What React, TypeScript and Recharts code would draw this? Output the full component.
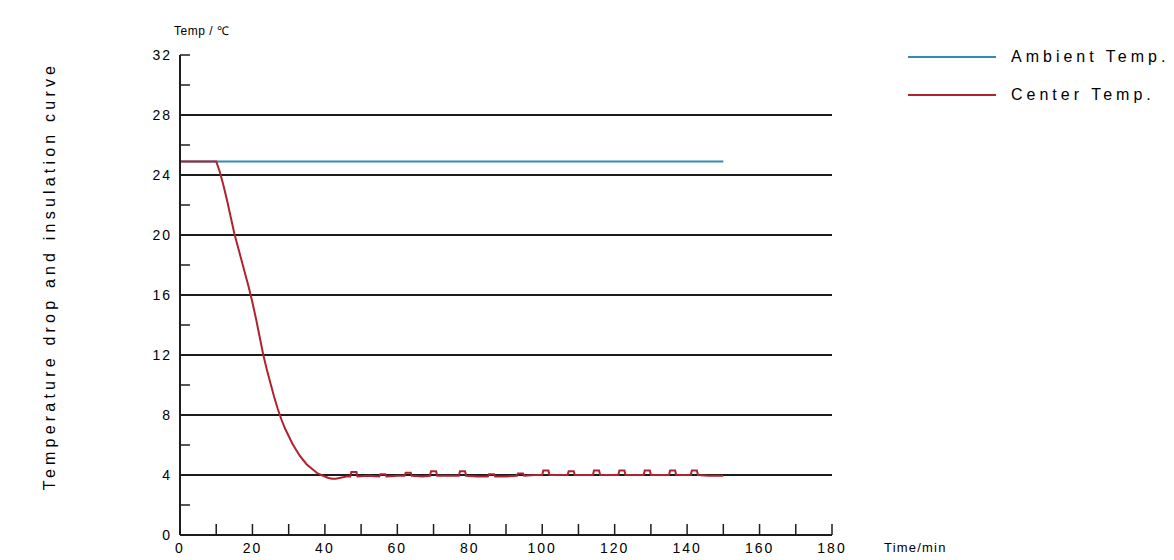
import { LineChart, Line, XAxis, YAxis, ReferenceLine } from 'recharts';

// time (min) / temperature (°C)
const AMBIENT_TIME = [0, 150];
const AMBIENT_TEMP = [24.9, 24.9];

const CENTER_TIME = [
  0, 10, 11, 12, 13, 14, 15, 16, 17, 18, 19, 20, 21, 22, 23, 24, 25, 26, 27, 28,
  29, 30, 31, 32, 33, 34, 35, 36, 37, 38, 39, 40, 41, 42, 43, 44, 45, 46,
  47, 47.3, 48.7, 49, 52, 55, 55.3, 56.7, 57, 60, 62, 62.3, 63.7, 64, 67,
  69, 69.3, 70.7, 71, 74, 77, 77.3, 78.7, 79, 82, 85, 85.3, 86.7, 87, 90,
  93, 93.3, 94.7, 95, 98, 100, 100.3, 101.7, 102, 105, 107, 107.3, 108.7, 109,
  112, 114, 114.3, 115.7, 116, 119, 121, 121.3, 122.7, 123, 126, 128, 128.3,
  129.7, 130, 133, 135, 135.3, 136.7, 137, 139.5, 141, 141.3, 142.7, 143, 146,
  150,
];
const CENTER_TEMP = [
  24.9, 24.9, 24.2, 23.3, 22.3, 21.2, 20.1, 19.2, 18.3, 17.4, 16.5, 15.5, 14.4,
  13.2, 12.0, 11.0, 10.1, 9.2, 8.4, 7.7, 7.1, 6.6, 6.1, 5.7, 5.3, 5.0, 4.7, 4.5,
  4.3, 4.1, 4.0, 3.9, 3.8, 3.75, 3.75, 3.8, 3.85, 3.9,
  3.9, 4.2, 4.2, 3.9, 3.95, 3.9, 4.05, 4.05, 3.9, 3.95, 3.95, 4.15, 4.15, 3.95,
  3.9, 3.95, 4.25, 4.25, 3.95, 3.95, 3.95, 4.25, 4.25, 3.95, 3.9, 3.9, 4.05, 4.05,
  3.9, 3.9, 3.95, 4.1, 4.1, 3.95, 4.0, 4.0, 4.3, 4.3, 4.0, 4.0, 4.0, 4.25,
  4.25, 4.0, 4.0, 4.0, 4.3, 4.3, 4.0, 4.0, 4.0, 4.3, 4.3, 4.0, 4.0, 4.0, 4.3,
  4.3, 4.0, 4.0, 4.0, 4.3, 4.3, 4.0, 4.0, 4.0, 4.3, 4.3, 4.0, 3.95, 3.95,
];

const Y_LABEL_TICKS = [0, 4, 8, 12, 16, 20, 24, 28, 32];
const Y_MINOR_TICKS = [0, 2, 4, 6, 8, 10, 12, 14, 16, 18, 20, 22, 24, 26, 28, 30, 32];
const X_LABEL_TICKS = [0, 20, 40, 60, 80, 100, 120, 140, 160, 180];
const X_MINOR_TICKS = [0, 10, 20, 30, 40, 50, 60, 70, 80, 90, 100, 110, 120, 130, 140, 150, 160, 170, 180];
const GRID_TEMPS = [4, 8, 12, 16, 20, 24, 28];

const SERIES = [
  { name: 'Ambient Temp.', color: '#2f8cba' },
  { name: 'Center Temp.', color: '#b0222f' },
];

const ambientData = AMBIENT_TIME.map((t, i) => ({ t, v: AMBIENT_TEMP[i] }));
const centerData = CENTER_TIME.map((t, i) => ({ t, v: CENTER_TEMP[i] }));

const FONT = '"Liberation Sans", Arial, sans-serif';
const INK = '#1c1c1c';
const tickFont = { fontFamily: FONT, fontSize: 14, fill: '#000', letterSpacing: 2 };
const noLabel = () => <g />;

export default function App() {
  return (
    <div style={{ position: 'absolute', left: 0, top: 0, width: 1174, height: 560, background: '#fff', fontFamily: FONT }}>
      <LineChart
        width={1174}
        height={560}
        margin={{ top: 55, right: 342, bottom: 0, left: 140 }}
      >
        <XAxis
          xAxisId="main"
          dataKey="t"
          type="number"
          domain={[0, 180]}
          ticks={X_LABEL_TICKS}
          allowDataOverflow
          height={25}
          tickLine={false}
          tickSize={5}
          tickMargin={3}
          axisLine={{ stroke: INK, strokeWidth: 2 }}
          tick={tickFont}
        />
        <XAxis
          xAxisId="minor"
          dataKey="t"
          type="number"
          domain={[0, 180]}
          ticks={X_MINOR_TICKS}
          allowDataOverflow
          interval={0}
          mirror
          tick={noLabel}
          axisLine={false}
          tickSize={11}
          tickLine={{ stroke: INK, strokeWidth: 1.5 }}
        />
        <YAxis
          yAxisId="main"
          type="number"
          domain={[0, 32]}
          ticks={Y_LABEL_TICKS}
          allowDataOverflow
          width={40}
          tickLine={false}
          tickSize={4}
          tickMargin={4}
          axisLine={{ stroke: INK, strokeWidth: 2 }}
          tick={tickFont}
        />
        <YAxis
          yAxisId="minor"
          type="number"
          domain={[0, 32]}
          ticks={Y_MINOR_TICKS}
          allowDataOverflow
          interval={0}
          mirror
          tick={noLabel}
          axisLine={false}
          tickSize={10}
          tickLine={{ stroke: INK, strokeWidth: 1.5 }}
        />
        {GRID_TEMPS.map((y) => (
          <ReferenceLine
            key={y}
            xAxisId="main"
            yAxisId="main"
            y={y}
            stroke={INK}
            strokeWidth={2}
          />
        ))}
        <Line
          xAxisId="minor"
          yAxisId="minor"
          data={ambientData}
          dataKey="v"
          name={SERIES[0].name}
          stroke={SERIES[0].color}
          strokeWidth={2}
          dot={false}
          type="linear"
          isAnimationActive={false}
        />
        <Line
          xAxisId="main"
          yAxisId="main"
          data={centerData}
          dataKey="v"
          name={SERIES[1].name}
          stroke={SERIES[1].color}
          strokeWidth={2}
          dot={false}
          type="linear"
          isAnimationActive={false}
        />
      </LineChart>

      <div style={{ position: 'absolute', left: 174, top: 22, fontSize: 12, letterSpacing: 0.5, color: '#000' }}>
        Temp / ℃
      </div>
      <div style={{ position: 'absolute', left: 884, top: 540, fontSize: 13, letterSpacing: 1.2, color: '#000' }}>
        Time/min
      </div>
      <div
        style={{
          position: 'absolute',
          left: 50,
          top: 276,
          transform: 'translate(-50%, -50%) rotate(-90deg)',
          whiteSpace: 'nowrap',
          fontSize: 16,
          letterSpacing: 4.2,
          color: '#000',
        }}
      >
        Temperature drop and insulation curve
      </div>
      {SERIES.map((s, i) => (
        <div
          key={s.name}
          style={{ position: 'absolute', left: 908, top: 48 + i * 38, display: 'flex', alignItems: 'center' }}
        >
          <div style={{ width: 88, height: 2, background: s.color, marginRight: 15 }} />
          <span style={{ fontSize: 16, letterSpacing: 4, color: '#000' }}>{s.name}</span>
        </div>
      ))}
    </div>
  );
}
